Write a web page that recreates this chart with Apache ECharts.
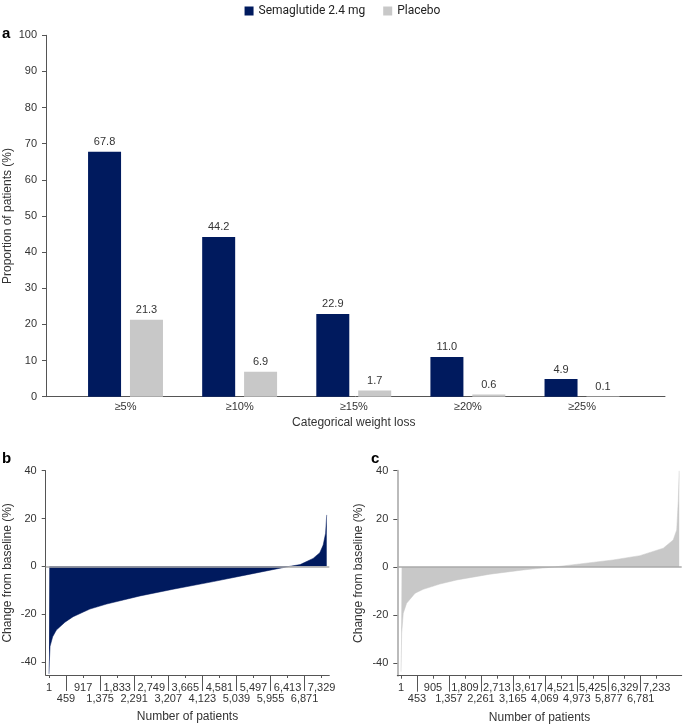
<!DOCTYPE html>
<html>
<head>
<meta charset="utf-8">
<script src="https://cdn.jsdelivr.net/npm/echarts@6/dist/echarts.min.js"></script>
<style>html,body{margin:0;padding:0;background:#fff}#chart{width:685px;height:724px}</style>
</head>
<body>
<div id="chart"></div>
<script>
// ---- Data ----
const categories = ['≥5%', '≥10%', '≥15%', '≥20%', '≥25%'];
const semaglutide = [67.8, 44.2, 22.9, 11.0, 4.9];
const placebo = [21.3, 6.9, 1.7, 0.6, 0.1];

// Waterfall (sorted individual change from baseline, %)
const semaRank   = [1, 10, 30, 100, 200, 430, 650, 1100, 1550, 2000, 2450, 3340, 4420, 5310, 6210, 6480, 6750, 7100, 7280, 7370, 7435, 7465];
const semaChange = [-45, -40, -33.5, -29.5, -26.7, -23.4, -21.1, -17.9, -15.8, -14.1, -12.4, -9.6, -6.4, -3.6, -0.8, 0, 0.7, 3.3, 5.7, 8.9, 13.8, 21.5];
const placRank   = [1, 20, 65, 160, 400, 630, 1100, 1580, 2520, 3460, 3930, 4350, 5060, 6000, 6760, 7420, 7700, 7800, 7845, 7870];
const placChange = [-43.5, -27.5, -19.2, -15.1, -10.9, -9.3, -7.1, -5.4, -3.0, -1.25, -0.55, 0, 1.25, 2.9, 4.7, 7.8, 11.2, 15.4, 27.8, 40];

const semaTicks = [1, 459, 917, 1375, 1833, 2291, 2749, 3207, 3665, 4123, 4581, 5039, 5497, 5955, 6413, 6871, 7329];
const placTicks = [1, 453, 905, 1357, 1809, 2261, 2713, 3165, 3617, 4069, 4521, 4973, 5425, 5877, 6329, 6781, 7233];
const changeTicks = [-40, -20, 0, 20, 40];

const NAVY = '#001a5e';
const GREY = '#c8c8c8';
const AX = '#555';
const FONT = 'Liberation Sans';

const upper = t => t.filter((_, i) => i % 2 === 0);
const lower = t => t.filter((_, i) => i % 2 === 1);
const fmt = v => Number(v).toLocaleString('en-US');

function patientAxes(grid, ticks, min, max) {
  return [
    {
      type: 'value', gridIndex: grid, position: 'bottom', min: min, max: max,
      name: 'Number of patients', nameLocation: 'middle', nameGap: 36, nameMoveOverlap: false,
      nameTextStyle: { fontSize: 12, color: '#333', fontFamily: FONT },
      axisLine: { onZero: false, lineStyle: { color: AX, width: 1 } },
      axisTick: { customValues: ticks, length: 3, lineStyle: { color: AX } },
      axisLabel: { customValues: upper(ticks), margin: 7, fontSize: 11, color: '#333', fontFamily: FONT, formatter: fmt },
      splitLine: { show: false }
    },
    {
      type: 'value', gridIndex: grid, position: 'bottom', min: min, max: max,
      axisLine: { show: false, onZero: false },
      axisTick: { customValues: lower(ticks), length: 16, lineStyle: { color: AX } },
      axisLabel: { customValues: lower(ticks), margin: 18, fontSize: 11, color: '#333', fontFamily: FONT, formatter: fmt },
      splitLine: { show: false }
    }
  ];
}

function changeAxis(grid, min, lineColor, lineWidth, gap) {
  return {
    type: 'value', gridIndex: grid, min: min, max: 40,
    name: 'Change from baseline (%)', nameLocation: 'middle', nameGap: gap, nameMoveOverlap: false,
    nameTextStyle: { fontSize: 12, color: '#333', fontFamily: FONT },
    axisLine: { show: true, onZero: false, lineStyle: { color: lineColor, width: lineWidth } },
    axisTick: { show: true, customValues: changeTicks, length: 4, lineStyle: { color: AX } },
    axisLabel: { customValues: changeTicks, margin: 9, fontSize: 11, color: '#333', fontFamily: FONT },
    splitLine: { show: false }
  };
}

const zeroLine = {
  silent: true, symbol: 'none', label: { show: false },
  lineStyle: { color: '#aaa', width: 1.5, type: 'solid' },
  data: [{ yAxis: 0 }]
};

const barLabel = { show: true, position: 'top', distance: 4, fontSize: 11, color: '#333', fontFamily: FONT, formatter: p => Number(p.value).toFixed(1) };

const gridBase = { containLabel: false, outerBoundsMode: 'none' };

const chart = echarts.init(document.getElementById('chart'), null, { renderer: 'canvas' });
chart.setOption({
  animation: false,
  textStyle: { fontFamily: FONT },
  title: [
    { text: 'a', left: 2, top: 26, padding: 0, textStyle: { fontSize: 15, fontWeight: 900, color: '#000', fontFamily: FONT } },
    { text: 'b', left: 2, top: 451, padding: 0, textStyle: { fontSize: 15, fontWeight: 900, color: '#000', fontFamily: FONT } },
    { text: 'c', left: 371, top: 451, padding: 0, textStyle: { fontSize: 15, fontWeight: 900, color: '#000', fontFamily: FONT } }
  ],
  legend: {
    top: 0, left: 'center', icon: 'rect', itemWidth: 9, itemHeight: 9, itemGap: 18,
    data: ['Semaglutide 2.4 mg', 'Placebo'],
    textStyle: { fontSize: 12, color: '#222', fontFamily: 'Roboto' }
  },
  grid: [
    Object.assign({ left: 46, right: 20, top: 35.3, bottom: 327.3 }, gridBase),
    Object.assign({ left: 68.45, right: 45.95, top: 35.3, bottom: 327.3 }, gridBase),
    Object.assign({ left: 45.7, right: 355.7, top: 470.7, bottom: 49 }, gridBase),
    Object.assign({ left: 397.3, right: 3.3, top: 470.7, bottom: 48.3 }, gridBase)
  ],
  xAxis: [
    {
      type: 'value', gridIndex: 0, min: 0, max: 1,
      axisLine: { onZero: false, lineStyle: { color: AX } },
      axisTick: { show: false }, axisLabel: { show: false }, splitLine: { show: false }
    },
    {
      type: 'category', gridIndex: 1, data: categories,
      name: 'Categorical weight loss', nameLocation: 'middle', nameGap: 20, nameMoveOverlap: false,
      nameTextStyle: { fontSize: 12, color: '#333', fontFamily: FONT },
      axisLine: { show: false, onZero: false },
      axisTick: { show: false },
      axisLabel: { margin: 5, fontSize: 11, color: '#333', fontFamily: FONT },
      splitLine: { show: false }
    },
    ...patientAxes(2, semaTicks, -87.7, 7535),
    ...patientAxes(3, placTicks, -103.7, 7941)
  ],
  yAxis: [
    {
      type: 'value', gridIndex: 0, min: 0, max: 100, interval: 10,
      name: 'Proportion of patients (%)', nameLocation: 'middle', nameGap: 32, nameMoveOverlap: false,
      nameTextStyle: { fontSize: 12, color: '#333', fontFamily: FONT },
      axisLine: { show: true, onZero: false, lineStyle: { color: AX } },
      axisTick: { show: true, length: 4, lineStyle: { color: AX } },
      axisLabel: { margin: 9, fontSize: 11, color: '#333', fontFamily: FONT },
      splitLine: { show: false }
    },
    { type: 'value', gridIndex: 1, min: 0, max: 100, show: false },
    changeAxis(2, -45.5, AX, 1, 32),
    changeAxis(3, -45.2, '#bbb', 2, 33)
  ],
  series: [
    {
      name: 'Semaglutide 2.4 mg', type: 'bar', xAxisIndex: 1, yAxisIndex: 1,
      barWidth: 33, barGap: '27%', itemStyle: { color: NAVY },
      label: barLabel,
      data: semaglutide
    },
    {
      name: 'Placebo', type: 'bar', xAxisIndex: 1, yAxisIndex: 1,
      barWidth: 33, barGap: '27%', itemStyle: { color: GREY },
      label: barLabel,
      data: placebo
    },
    {
      name: 'semaWaterfall', type: 'line', xAxisIndex: 2, yAxisIndex: 2,
      showSymbol: false, symbol: 'none', lineStyle: { width: 0.5, color: NAVY },
      areaStyle: { color: NAVY, opacity: 1, origin: 0 },
      data: semaRank.map((r, i) => [r, semaChange[i]]),
      markLine: zeroLine
    },
    {
      name: 'placWaterfall', type: 'line', xAxisIndex: 4, yAxisIndex: 3,
      showSymbol: false, symbol: 'none', lineStyle: { width: 0.5, color: GREY },
      areaStyle: { color: GREY, opacity: 1, origin: 0 },
      data: placRank.map((r, i) => [r, placChange[i]]),
      markLine: zeroLine
    }
  ]
});
</script>
</body>
</html>
